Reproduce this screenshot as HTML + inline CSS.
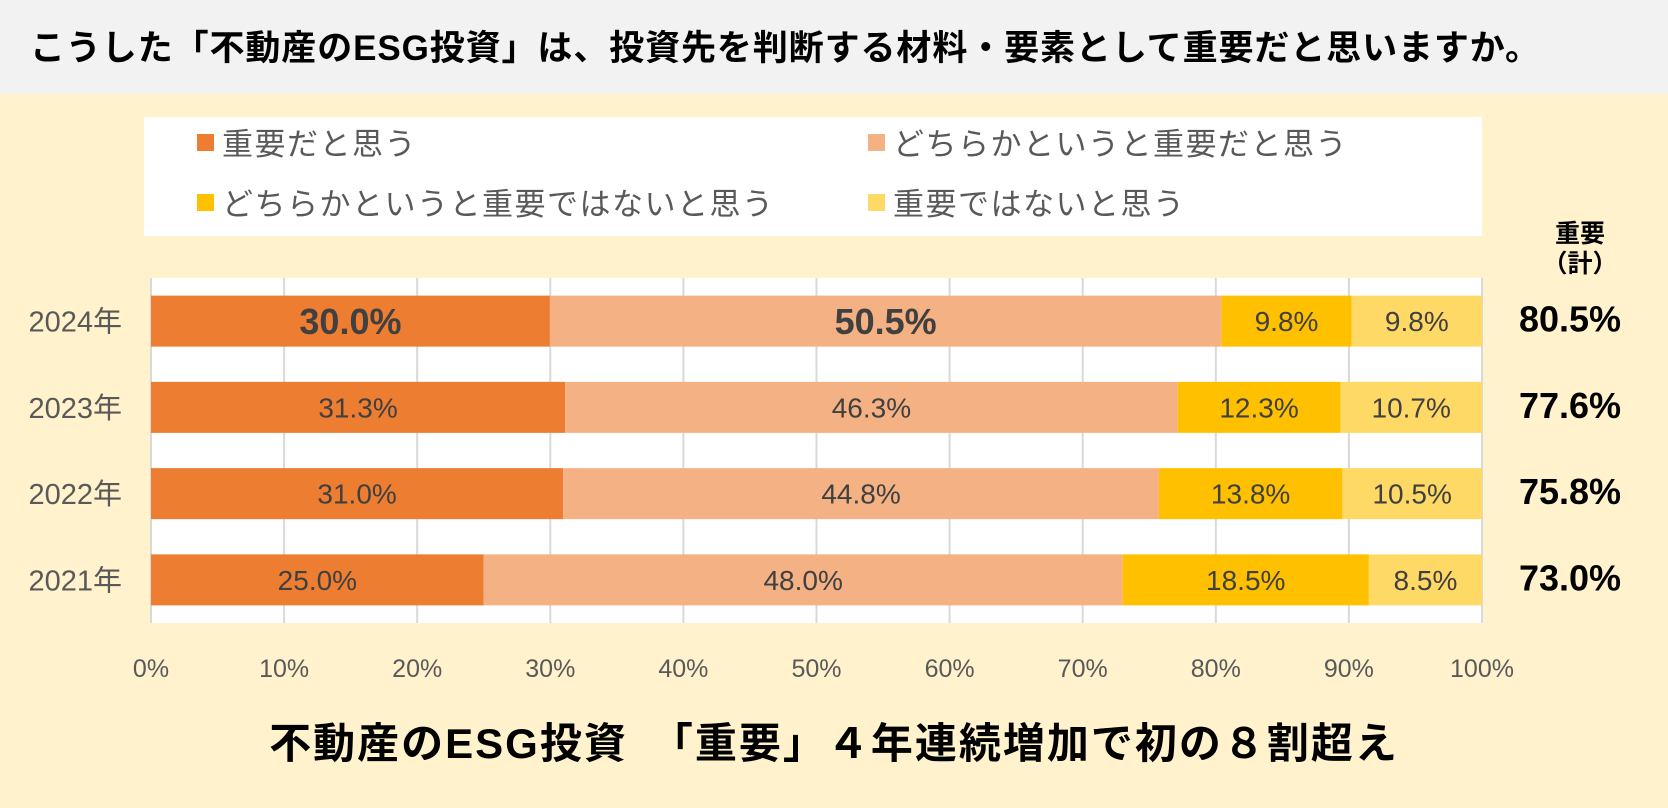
<!DOCTYPE html>
<html><head><meta charset="utf-8">
<style>
html,body{margin:0;padding:0;}
body{width:1668px;height:803px;background:#FFF2CC;position:relative;overflow:hidden;font-family:"Liberation Sans","Noto Sans CJK JP",sans-serif;}
svg text{font-family:"Liberation Sans","Noto Sans CJK JP",sans-serif;}
</style></head>
<body>
<svg id="chart" width="1668" height="803" xmlns="http://www.w3.org/2000/svg">
  <rect x="0" y="0" width="1668" height="94" fill="#F2F2F2"/>
  <text x="30" y="60" font-size="35" font-weight="bold" letter-spacing="0.9" fill="#000">こうした「不動産のESG投資」は、投資先を判断する材料・要素として重要だと思いますか。</text>
  <rect x="144" y="117" width="1338" height="119" fill="#fff"/>
  <g id="legend"></g>
  <rect x="151" y="278" width="1332" height="345" fill="#fff"/>
  <g id="grid"></g>
  <g id="bars"></g>
  <g id="xticks"></g>
  <g id="ylabels"></g>
  <text x="1580" y="242" font-size="25" font-weight="bold" text-anchor="middle" fill="#000">重要</text>
  <text x="1580" y="272" font-size="25" font-weight="bold" text-anchor="middle" fill="#000">（計）</text>
  <g id="totals"></g>
  <text x="834" y="758" font-size="42" font-weight="bold" letter-spacing="2" text-anchor="middle" fill="#000">不動産のESG投資　「重要」４年連続増加で初の８割超え</text>
</svg>
<script>
const years = ["2024年","2023年","2022年","2021年"];
const important = [30.0, 31.3, 31.0, 25.0];
const somewhatImportant = [50.5, 46.3, 44.8, 48.0];
const somewhatNot = [9.8, 12.3, 13.8, 18.5];
const notImportant = [9.8, 10.7, 10.5, 8.5];
const totals = [80.5, 77.6, 75.8, 73.0];
const xTicks = [0,10,20,30,40,50,60,70,80,90,100];
const seriesNames = ["重要だと思う","どちらかというと重要だと思う","どちらかというと重要ではないと思う","重要ではないと思う"];

const NS="http://www.w3.org/2000/svg";
const colors=["#ED7D31","#F4B183","#FFC000","#FFD966"];
const X0=151, X1=1482, Ytop=278, Ybot=623;
const x = v => X0 + (X1-X0)*v/100;
const bandH=(Ybot-Ytop)/years.length;
const y = i => Ytop + bandH*i + (bandH-51)/2;
function mk(tag,attrs,parent,txt){const e=document.createElementNS(NS,tag);for(const k in attrs)e.setAttribute(k,attrs[k]);if(txt!==undefined)e.textContent=txt;parent.appendChild(e);return e;}

const grid=document.getElementById('grid'), xt=document.getElementById('xticks');
xTicks.forEach(t=>{
  const l=mk('line',{x1:x(t),x2:x(t),y1:Ytop,y2:Ybot,stroke:'#D9D9D9','stroke-width':2},grid);
  
  
  const tx=mk('text',{x:x(t),y:677,'font-size':25,'text-anchor':'middle',fill:'#595959'},xt,t+'%');
  
  
});

const series=[important,somewhatImportant,somewhatNot,notImportant];
const bars=document.getElementById('bars'), yl=document.getElementById('ylabels'), tot=document.getElementById('totals');
years.forEach((yr,i)=>{
  const sum=series.reduce((a,s)=>a+s[i],0);
  const k=100/sum;
  let acc=0;
  series.forEach((s,j)=>{
    const v=s[i]*k;
    const r=mk('rect',{x:x(acc),y:y(i),width:x(acc+v)-x(acc),height:51,fill:colors[j]},bars);
    
    
    const big = i===0 && j<2;
    const t=mk('text',{x:(x(acc)+x(acc+v))/2,y:y(i)+25.5+(big?13:10),'font-size':big?36:28,'font-weight':big?'bold':'normal','text-anchor':'middle',fill:'#404040'},bars,s[i].toFixed(1)+'%');
    
    
    acc+=v;
  });
  const yt=mk('text',{x:122,y:y(i)+36,'font-size':29,'text-anchor':'end',fill:'#595959'},yl,yr);
  
  
  const tt=mk('text',{x:1570,y:y(i)+36,'font-size':36,'font-weight':'bold','text-anchor':'middle',fill:'#000'},tot,totals[i].toFixed(1)+'%');
  
  
});

const lg=document.getElementById('legend');
const lpos=[[197,143],[868,143],[197,203],[868,203]];
seriesNames.forEach((n,j)=>{
  const m=mk('rect',{x:lpos[j][0],y:lpos[j][1]-9,width:17,height:17,fill:colors[j]},lg);
  
  
  const t=mk('text',{x:lpos[j][0]+25,y:lpos[j][1]+12,'font-size':31,'letter-spacing':1.5,fill:'#595959'},lg,n);
  
  
});
</script>
</body></html>
